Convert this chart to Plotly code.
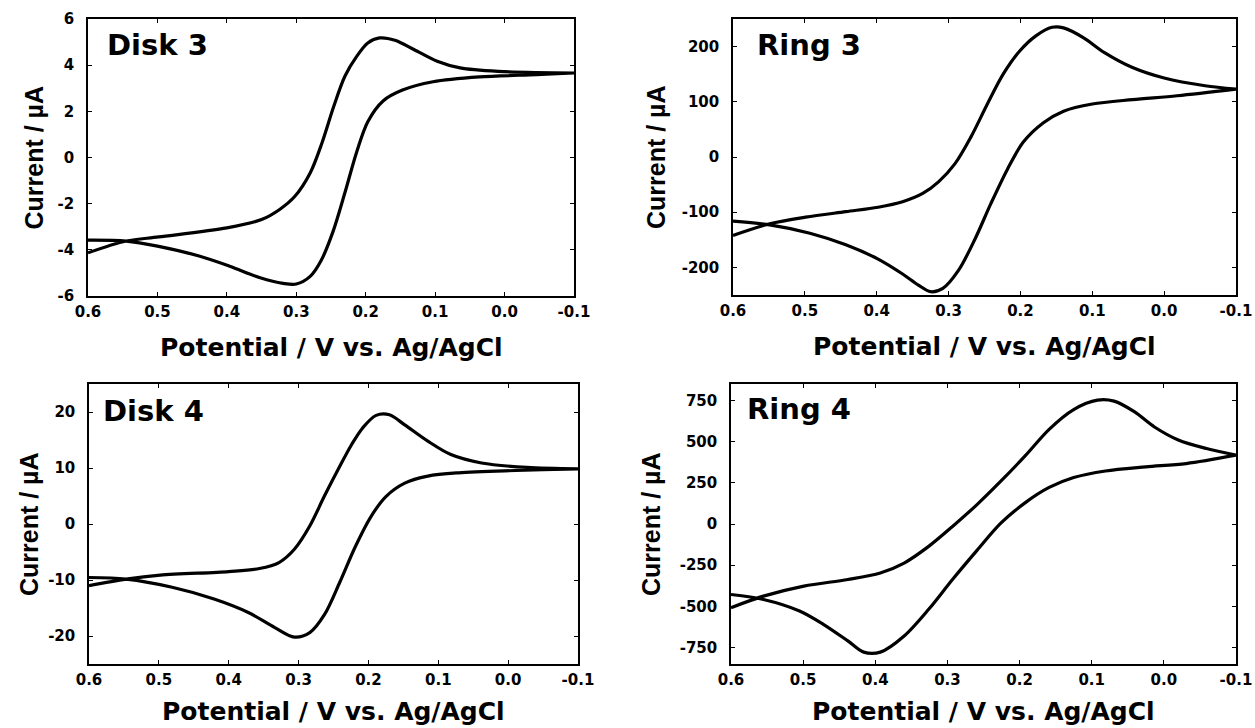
import plotly.graph_objects as go

# ---------------- data ----------------
x_ticks = [0.6, 0.5, 0.4, 0.3, 0.2, 0.1, 0.0, -0.1]
x_ticktext = ["0.6", "0.5", "0.4", "0.3", "0.2", "0.1", "0.0", "-0.1"]

panel_names = ["Disk 3", "Ring 3", "Disk 4", "Ring 4"]

# Disk 3
d3_up_v = [0.6, 0.545, 0.498, 0.40, 0.35, 0.324, 0.302, 0.28, 0.263, 0.246, 0.23, 0.213, 0.197, 0.18, 0.158, 0.13, 0.097, 0.064, 0.009, -0.1]
d3_up_i = [-4.13, -3.62, -3.44, -3.05, -2.69, -2.25, -1.68, -0.67, 0.63, 2.22, 3.52, 4.38, 4.96, 5.18, 5.08, 4.67, 4.17, 3.88, 3.73, 3.66]
d3_lo_v = [0.6, 0.545, 0.50, 0.44, 0.396, 0.352, 0.319, 0.30, 0.28, 0.264, 0.247, 0.23, 0.213, 0.197, 0.175, 0.147, 0.103, 0.036, -0.046, -0.1]
d3_lo_i = [-3.58, -3.62, -3.84, -4.27, -4.71, -5.21, -5.45, -5.48, -5.15, -4.45, -3.2, -1.53, 0.24, 1.55, 2.45, 2.92, 3.28, 3.49, 3.59, 3.66]

# Ring 3
r3_up_v = [0.6, 0.549, 0.499, 0.443, 0.398, 0.364, 0.336, 0.314, 0.291, 0.269, 0.246, 0.224, 0.201, 0.179, 0.156, 0.14, 0.112, 0.083, 0.044, 0.0, -0.057, -0.1]
r3_up_i = [-142, -121, -109, -99, -91, -81, -66, -45, -12, 36, 96, 150, 192, 219, 235, 234, 216, 189, 162, 143, 129, 123]
r3_lo_v = [0.6, 0.549, 0.493, 0.443, 0.398, 0.364, 0.342, 0.325, 0.308, 0.286, 0.263, 0.241, 0.218, 0.196, 0.168, 0.14, 0.10, 0.044, -0.018, -0.1]
r3_lo_i = [-116, -123, -138, -159, -185, -212, -232, -244, -238, -205, -148, -84, -22, 27, 62, 83, 96, 104, 111, 123]

# Disk 4
d4_up_v = [0.6, 0.547, 0.498, 0.40, 0.356, 0.328, 0.306, 0.284, 0.263, 0.241, 0.224, 0.208, 0.189, 0.17, 0.148, 0.115, 0.082, 0.038, -0.027, -0.1]
d4_up_i = [-11.0, -9.85, -9.14, -8.49, -7.95, -6.88, -4.51, -0.36, 4.99, 10.3, 14.2, 17.2, 19.4, 19.5, 17.7, 14.8, 12.4, 10.9, 10.1, 9.85]
d4_lo_v = [0.6, 0.547, 0.481, 0.421, 0.372, 0.334, 0.306, 0.284, 0.263, 0.241, 0.219, 0.197, 0.175, 0.148, 0.115, 0.071, -0.011, -0.1]
d4_lo_i = [-9.55, -9.85, -11.3, -13.4, -15.8, -18.5, -20.2, -19.4, -16.2, -10.4, -4.1, 1.2, 4.9, 7.3, 8.55, 9.14, 9.55, 9.85]

# Ring 4
r4_up_v = [0.6, 0.555, 0.499, 0.438, 0.393, 0.36, 0.326, 0.293, 0.259, 0.226, 0.192, 0.159, 0.125, 0.092, 0.069, 0.041, 0.013, -0.02, -0.059, -0.1]
r4_up_i = [-508, -438, -377, -337, -297, -237, -136, -15, 118, 260, 415, 575, 695, 752, 746, 682, 589, 510, 458, 418]
r4_lo_v = [0.6, 0.555, 0.505, 0.472, 0.438, 0.416, 0.393, 0.36, 0.326, 0.293, 0.259, 0.226, 0.192, 0.159, 0.125, 0.081, 0.025, -0.031, -0.1]
r4_lo_i = [-428, -458, -528, -609, -710, -778, -778, -680, -518, -337, -160, 5, 130, 222, 282, 322, 347, 367, 418]

y_ranges = [[-6, 6], [-250, 250], [-25, 25], [-850, 850]]
y_ticks = [[-6, -4, -2, 0, 2, 4, 6],
           [-200, -100, 0, 100, 200],
           [-20, -10, 0, 10, 20],
           [-750, -500, -250, 0, 250, 500, 750]]
y_ticktext = [["-6", "-4", "-2", "0", "2", "4", "6"],
              ["-200", "-100", "0", "100", "200"],
              ["-20", "-10", "0", "10", "20"],
              ["-750", "-500", "-250", "0", "250", "500", "750"]]

curves = [(d3_up_v, d3_up_i, d3_lo_v, d3_lo_i),
          (r3_up_v, r3_up_i, r3_lo_v, r3_lo_i),
          (d4_up_v, d4_up_i, d4_lo_v, d4_lo_i),
          (r4_up_v, r4_up_i, r4_lo_v, r4_lo_i)]

# ---------------- layout geometry ----------------
W, H = 1255, 728
boxes_px = [(88, 574, 19, 296), (733, 1236, 19, 295), (89, 578, 384, 664), (731, 1236, 384, 664)]
ytitle_shift = [-55, -77, -60, -80]
xtitle_shift = [-51, -51, -47, -47]
label_shift = [(17, -26), (22, -26), (12, -27), (14, -25)]

FONT_H = "DejaVu Sans, Liberation Sans, sans-serif"
FONT_V = "Liberation Sans, Arial, sans-serif"

fig = go.Figure()
layout = dict(width=W, height=H, margin=dict(l=0, r=0, t=0, b=0, autoexpand=False),
              paper_bgcolor="white", plot_bgcolor="white", showlegend=False,
              annotations=[])

for k in range(4):
    xa = "x" if k == 0 else f"x{k+1}"
    ya = "y" if k == 0 else f"y{k+1}"
    up_v, up_i, lo_v, lo_i = curves[k]
    v = list(up_v) + list(reversed(lo_v))
    i = list(up_i) + list(reversed(lo_i))
    fig.add_trace(go.Scatter(x=v, y=i, mode="lines", xaxis=xa, yaxis=ya,
                             line=dict(color="black", width=3.2, shape="spline", smoothing=0.9),
                             hoverinfo="skip"))
    l, r, t, b = boxes_px[k]
    xdom = [l / W, r / W]
    ydom = [1 - b / H, 1 - t / H]
    axis_common = dict(showline=True, linecolor="black", linewidth=1.5, mirror="ticks",
                       ticks="inside", ticklen=4, tickwidth=1.2, tickcolor="black",
                       showgrid=False, zeroline=False, automargin=False,
                       tickfont=dict(family=FONT_H, size=15, color="black", weight="bold"))
    layout["xaxis" if k == 0 else f"xaxis{k+1}"] = dict(
        domain=xdom, range=[0.6, -0.1], anchor=ya, tickvals=x_ticks,
        ticktext=[f"<b>{s}</b>" for s in x_ticktext],
        ticklabelstandoff=1, **axis_common)
    layout["yaxis" if k == 0 else f"yaxis{k+1}"] = dict(
        domain=ydom, range=y_ranges[k], anchor=xa, tickvals=y_ticks[k],
        ticktext=[f"<b>{s}</b>" for s in y_ticktext[k]],
        ticklabelstandoff=9, **axis_common)
    xref_dom = f"{xa} domain"
    yref_dom = f"{ya} domain"
    # panel label
    layout["annotations"].append(dict(
        text=f"<b>{panel_names[k]}</b>", xref=xref_dom, yref=yref_dom, x=0, y=1,
        xanchor="left", yanchor="middle",
        xshift=label_shift[k][0], yshift=label_shift[k][1],
        showarrow=False, font=dict(family=FONT_H, size=29, color="black", weight="bold")))
    # x title
    layout["annotations"].append(dict(
        text="<b>Potential / V vs. Ag/AgCl</b>", xref=xref_dom, yref=yref_dom, x=0.5, y=0,
        xanchor="center", yanchor="middle", yshift=xtitle_shift[k], showarrow=False,
        font=dict(family=FONT_H, size=25, color="black", weight="bold")))
    # y title
    layout["annotations"].append(dict(
        text="<b>Current / µA</b>", xref=xref_dom, yref=yref_dom, x=0, y=0.5, textangle=-90,
        xanchor="center", yanchor="middle", xshift=ytitle_shift[k], showarrow=False,
        font=dict(family=FONT_V, size=25, color="black", weight="bold")))

fig.update_layout(**layout)
fig.write_html("out.html")
